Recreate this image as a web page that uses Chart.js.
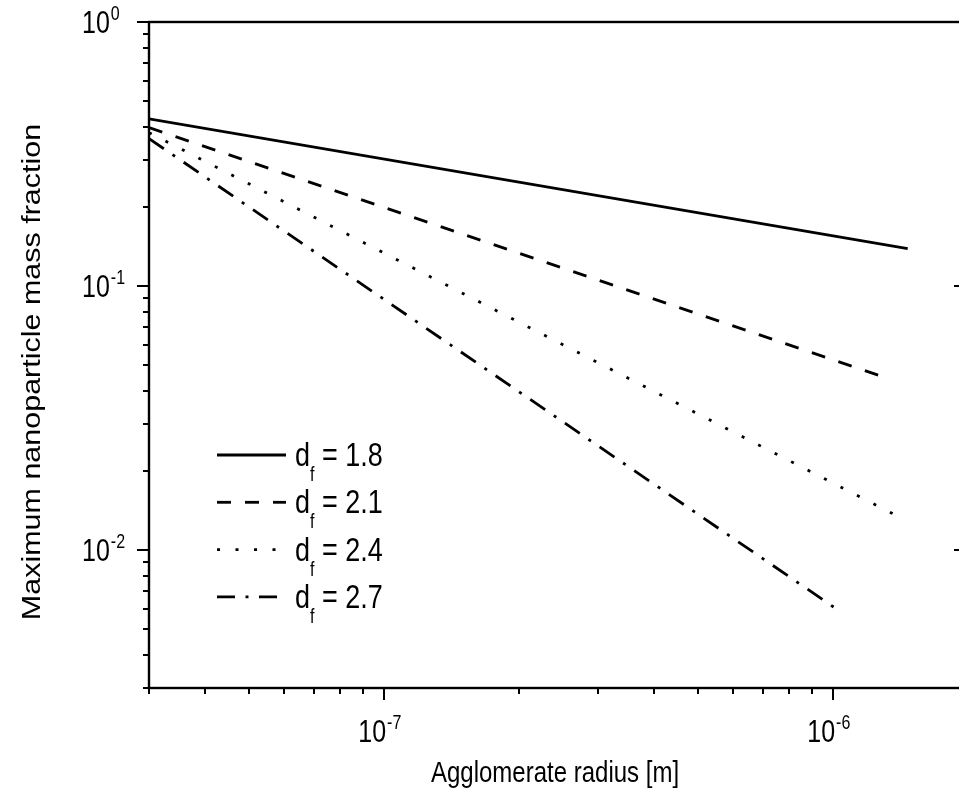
<!DOCTYPE html>
<html>
<head>
<meta charset="utf-8">
<script src="https://cdn.jsdelivr.net/npm/chart.js@4.4.1/dist/chart.umd.min.js"></script>
<style>
  html, body { margin: 0; padding: 0; background: #fff; overflow: hidden; }
  #wrap { width: 980px; height: 803px; }
</style>
</head>
<body>
<div id="wrap"><canvas id="fraction" width="980" height="803"></canvas></div>
<script>
// Max nanoparticle mass fraction vs agglomerate radius, one curve per fractal dimension
const fractalDims = ['1.8', '2.1', '2.4', '2.7'];

const radius18 = [3e-8, 1.468e-6];
const fraction18 = [0.4296, 0.1385];
const radius21 = [3e-8, 1.296e-6];
const fraction21 = [0.398, 0.04524];
const radius24 = [3e-8, 1.383e-6];
const fraction24 = [0.381, 0.01352];
const radius27 = [3e-8, 1.025e-6];
const fraction27 = [0.3618, 0.005934];

const xRange = [3e-8, 2e-6];
const yRange = [3e-3, 1];
const xMajorExp = [-7, -6];
const yMajorExp = [0, -1, -2];

const FONT = '"Liberation Sans", Arial, sans-serif';
const STRETCH = 1.26; // text is taller than it is wide

const dashes = [[], [14, 14], [3, 15.5], [18, 10.5, 3, 10.5]];

function toPoints(xs, ys) {
    return xs.map((x, i) => ({ x: x, y: ys[i] }));
}

const series = [
    toPoints(radius18, fraction18),
    toPoints(radius21, fraction21),
    toPoints(radius24, fraction24),
    toPoints(radius27, fraction27)
];

// 1..9 x 10^e inside a range, 1 x 10^e flagged as major
function logTicks(range) {
    const out = [];
    const lo = Math.floor(Math.log10(range[0]));
    const hi = Math.ceil(Math.log10(range[1]));
    for (let e = lo; e <= hi; e++) {
        for (let m = 1; m <= 9; m++) {
            const v = m * Math.pow(10, e);
            if (v >= range[0] * 0.999 && v <= range[1] * 1.001) out.push({ v: v, major: m === 1 });
        }
    }
    return out;
}

function stretched(ctx, text, x, y) {
    ctx.save();
    ctx.translate(x, y);
    ctx.scale(1, STRETCH);
    ctx.fillText(text, 0, 0);
    ctx.restore();
}

// "10" with a raised exponent, x is the left edge, y the baseline of "10"
function drawPow(ctx, exp, x, y) {
    ctx.font = '25px ' + FONT;
    ctx.textAlign = 'left';
    ctx.textBaseline = 'alphabetic';
    stretched(ctx, '10', x, y);
    const w = ctx.measureText('10').width;
    ctx.font = '16px ' + FONT;
    stretched(ctx, String(exp), x + w + 1, y - 13);
}

function powWidth(ctx, exp) {
    ctx.font = '25px ' + FONT;
    const w = ctx.measureText('10').width;
    ctx.font = '16px ' + FONT;
    return w + 1 + ctx.measureText(String(exp)).width;
}

const frame = {
    id: 'frame',
    afterDatasetsDraw(chart) {
        const { ctx, chartArea: a, scales: { x, y } } = chart;
        ctx.save();
        ctx.strokeStyle = '#000';
        ctx.fillStyle = '#000';
        ctx.lineWidth = 2.4;
        ctx.strokeRect(a.left, a.top, a.right - a.left, a.bottom - a.top);

        ctx.lineWidth = 2;
        ctx.beginPath();
        logTicks(xRange).forEach(t => {
            const px = Math.round(x.getPixelForValue(t.v));
            ctx.moveTo(px, a.bottom);
            ctx.lineTo(px, a.bottom + (t.major ? 12 : 6));
        });
        logTicks(yRange).forEach(t => {
            const py = Math.round(y.getPixelForValue(t.v));
            ctx.moveTo(a.left, py);
            ctx.lineTo(a.left - (t.major ? 12 : 6), py);
            ctx.moveTo(a.right, py);
            ctx.lineTo(a.right - (t.major ? 14 : 9), py);
        });
        ctx.stroke();

        // tick labels
        xMajorExp.forEach(e => {
            const px = x.getPixelForValue(Math.pow(10, e));
            drawPow(ctx, e, px - powWidth(ctx, e) / 2 - 4, 742);
        });
        yMajorExp.forEach(e => {
            const py = y.getPixelForValue(Math.pow(10, e));
            drawPow(ctx, e, 82, py + 11);
        });

        // axis titles
        ctx.font = '24px ' + FONT;
        ctx.textAlign = 'center';
        stretched(ctx, 'Agglomerate radius [m]', 555, 782);

        ctx.save();
        ctx.translate(40, 372);
        ctx.rotate(-Math.PI / 2);
        ctx.scale(1.27, 1.06);
        ctx.font = '24px ' + FONT;
        ctx.fillText('Maximum nanoparticle mass fraction', 0, 0);
        ctx.restore();

        // legend: sample line from each dataset's own dash, then d_f label
        chart.data.datasets.forEach((ds, i) => {
            const ly = 455 + i * 47.3;
            ctx.save();
            ctx.lineWidth = ds.borderWidth;
            ctx.setLineDash(ds.borderDash);
            ctx.beginPath();
            ctx.moveTo(217, ly);
            ctx.lineTo(286, ly);
            ctx.stroke();
            ctx.restore();

            ctx.textAlign = 'left';
            let tx = 295;
            ctx.font = '27px ' + FONT;
            stretched(ctx, 'd', tx, ly + 11);
            tx += ctx.measureText('d').width;
            ctx.font = '16px ' + FONT;
            stretched(ctx, 'f', tx, ly + 26);
            tx += ctx.measureText('f').width;
            ctx.font = '27px ' + FONT;
            stretched(ctx, ' = ' + fractalDims[i], tx, ly + 11);
        });
        ctx.restore();
    }
};

const fractionChart = new Chart(document.getElementById('fraction'), {
    type: 'line',
    data: {
        datasets: series.map((pts, i) => ({
            label: 'd_f = ' + fractalDims[i],
            data: pts,
            borderColor: '#000',
            borderWidth: 2.8,
            borderDash: dashes[i],
            pointRadius: 0,
            tension: 0,
            fill: false
        }))
    },
    options: {
        responsive: false,
        animation: false,
        layout: { padding: { left: 149, top: 22, right: 12, bottom: 115 } },
        plugins: { legend: { display: false }, tooltip: { enabled: false } },
        scales: {
            x: { type: 'logarithmic', display: false, min: xRange[0], max: xRange[1] },
            y: { type: 'logarithmic', display: false, min: yRange[0], max: yRange[1] }
        }
    },
    plugins: [frame]
});
</script>
</body>
</html>
